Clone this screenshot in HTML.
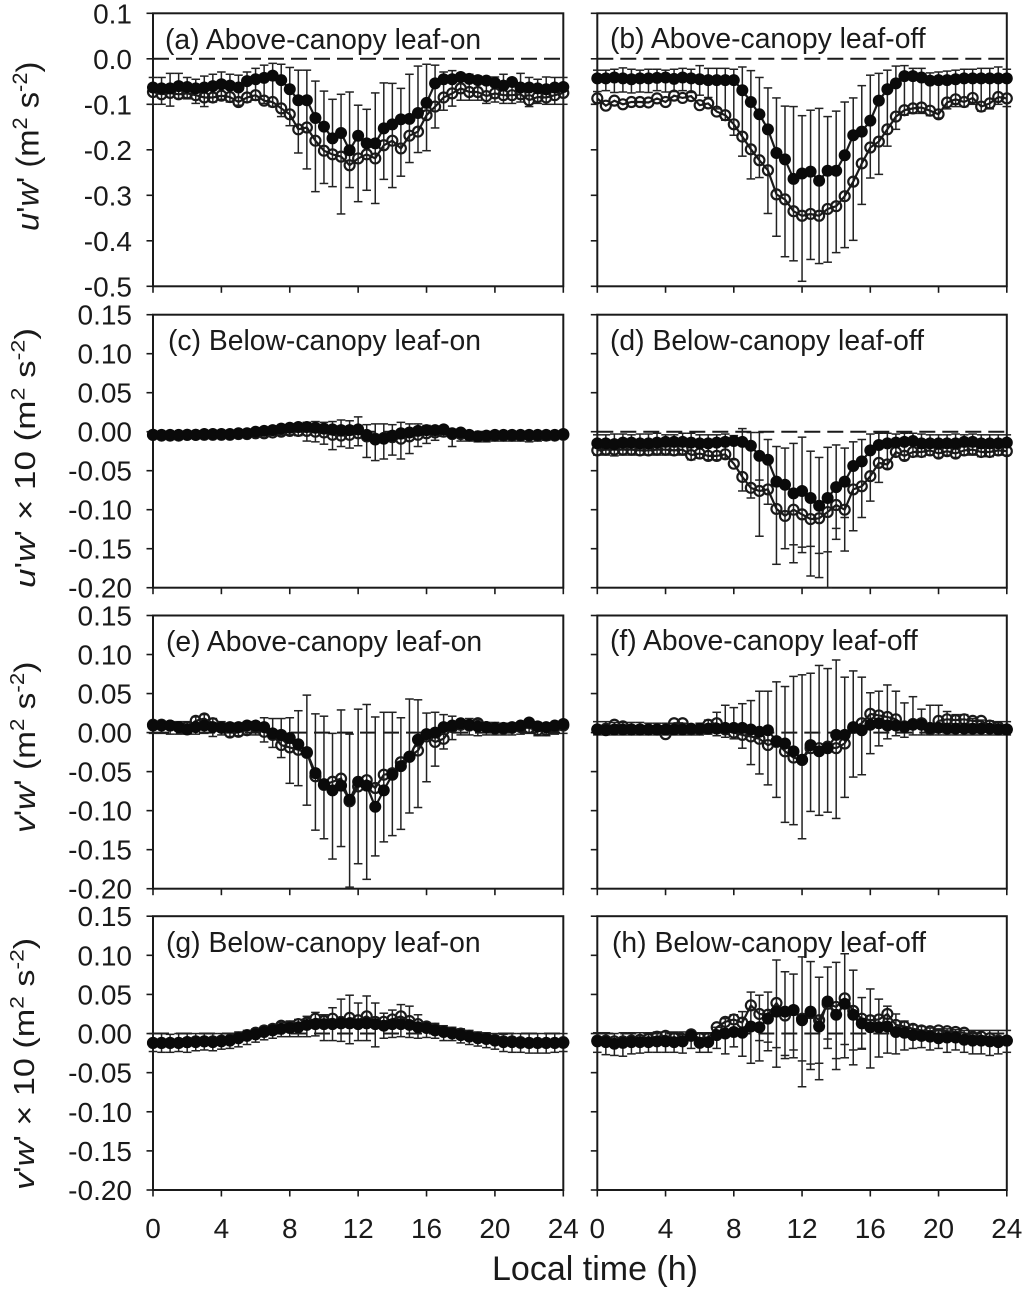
<!DOCTYPE html>
<html>
<head>
<meta charset="utf-8">
<title>Momentum flux diurnal panels</title>
<style>
html,body{margin:0;padding:0;background:#fff;}
svg{display:block;}
text{font-family:"Liberation Sans",sans-serif;fill:#1a1a1a;}
.pt{font-size:28.3px;}
.yt{font-size:30px;}
.yt .sp{font-size:20px;}
</style>
</head>
<body>
<svg id="chart" xmlns="http://www.w3.org/2000/svg" width="1024" height="1289" viewBox="0 0 1024 1289">
  <rect x="0" y="0" width="1024" height="1289" fill="#fff"/>
  <g id="marks"></g>
  <text class="pt" x="165" y="49">(a) Above-canopy leaf-on</text>
  <text class="pt" x="610" y="48">(b) Above-canopy leaf-off</text>
  <text class="pt" x="168" y="350">(c) Below-canopy leaf-on</text>
  <text class="pt" x="610" y="350">(d) Below-canopy leaf-off</text>
  <text class="pt" x="166" y="651">(e) Above-canopy leaf-on</text>
  <text class="pt" x="610" y="650">(f) Above-canopy leaf-off</text>
  <text class="pt" x="166" y="952">(g) Below-canopy leaf-on</text>
  <text class="pt" x="612" y="952">(h) Below-canopy leaf-off</text>
  <text class="yt" transform="translate(38.5,231) rotate(-90) scale(1.09,1.05)"><tspan font-style="italic">u</tspan>'<tspan font-style="italic">w</tspan>' (m<tspan class="sp" dy="-11">2</tspan><tspan dy="11"> s</tspan><tspan class="sp" dy="-11">-2</tspan><tspan dy="11">)</tspan></text>
  <text class="yt" transform="translate(35,588) rotate(-90) scale(1.167,0.95)"><tspan font-style="italic">u</tspan>'<tspan font-style="italic">w</tspan>' × 10 (m<tspan class="sp" dy="-11">2</tspan><tspan dy="11"> s</tspan><tspan class="sp" dy="-11">-2</tspan><tspan dy="11">)</tspan></text>
  <text class="yt" transform="translate(35,833) rotate(-90) scale(1.115,1)"><tspan font-style="italic">v</tspan>'<tspan font-style="italic">w</tspan>' (m<tspan class="sp" dy="-11">2</tspan><tspan dy="11"> s</tspan><tspan class="sp" dy="-11">-2</tspan><tspan dy="11">)</tspan></text>
  <text class="yt" transform="translate(34,1190) rotate(-90) scale(1.14,0.95)"><tspan font-style="italic">v</tspan>'<tspan font-style="italic">w</tspan>' × 10 (m<tspan class="sp" dy="-11">2</tspan><tspan dy="11"> s</tspan><tspan class="sp" dy="-11">-2</tspan><tspan dy="11">)</tspan></text>
  <text x="595" y="1280" text-anchor="middle" font-size="34">Local time (h)</text>
</svg>
<script>
const hours = [0,0.5,1,1.5,2,2.5,3,3.5,4,4.5,5,5.5,6,6.5,7,7.5,8,8.5,9,9.5,10,10.5,11,11.5,12,12.5,13,13.5,14,14.5,15,15.5,16,16.5,17,17.5,18,18.5,19,19.5,20,20.5,21,21.5,22,22.5,23,23.5,24];
const xTickValues = [0,4,8,12,16,20,24];
const xTickLabels = ['0','4','8','12','16','20','24'];
const yTicksTop = [0.1,0,-0.1,-0.2,-0.3,-0.4,-0.5];
const yTickLabelsTop = ['0.1','0.0','-0.1','-0.2','-0.3','-0.4','-0.5'];
const yTicksRest = [0.15,0.10,0.05,0,-0.05,-0.10,-0.15,-0.20];
const yTickLabelsRest = ['0.15','0.10','0.05','0.00','-0.05','-0.10','-0.15','-0.20'];

const aFilled = [-.063,-.065,-.065,-.06,-.062,-.065,-.063,-.06,-.056,-.059,-.063,-.049,-.045,-.042,-.037,-.047,-.067,-.091,-.091,-.13,-.149,-.175,-.163,-.201,-.169,-.186,-.186,-.153,-.144,-.133,-.132,-.119,-.097,-.054,-.045,-.045,-.04,-.044,-.047,-.048,-.053,-.059,-.051,-.063,-.063,-.065,-.067,-.063,-.062];
const aOpen = [-.073,-.078,-.075,-.078,-.076,-.08,-.085,-.085,-.081,-.084,-.095,-.085,-.08,-.092,-.095,-.109,-.122,-.155,-.151,-.18,-.202,-.21,-.215,-.234,-.219,-.21,-.219,-.19,-.18,-.197,-.169,-.16,-.124,-.105,-.085,-.076,-.065,-.073,-.073,-.082,-.076,-.08,-.08,-.078,-.091,-.084,-.085,-.08,-.075];
const aUpper = [-.041,-.041,-.032,-.032,-.041,-.045,-.038,-.034,-.029,-.034,-.036,-.029,-.021,-.014,-.01,-.012,-.019,-.025,-.025,-.049,-.071,-.089,-.078,-.073,-.102,-.111,-.075,-.053,-.054,-.065,-.034,-.016,-.012,-.014,-.029,-.026,-.032,-.034,-.038,-.041,-.04,-.034,-.044,-.032,-.041,-.045,-.04,-.041,-.041];
const aLower = [-.1,-.1,-.104,-.087,-.088,-.098,-.105,-.095,-.089,-.095,-.102,-.095,-.091,-.098,-.105,-.127,-.147,-.207,-.242,-.292,-.274,-.281,-.341,-.283,-.314,-.289,-.318,-.265,-.283,-.258,-.228,-.206,-.202,-.152,-.113,-.104,-.091,-.091,-.091,-.098,-.095,-.098,-.098,-.095,-.105,-.098,-.1,-.1,-.1];

const bFilled = [-.043,-.043,-.041,-.043,-.045,-.043,-.043,-.042,-.041,-.044,-.041,-.043,-.045,-.047,-.047,-.047,-.047,-.069,-.095,-.122,-.155,-.207,-.221,-.264,-.252,-.248,-.268,-.246,-.246,-.212,-.168,-.16,-.136,-.092,-.067,-.054,-.038,-.038,-.041,-.048,-.047,-.047,-.045,-.043,-.043,-.043,-.043,-.043,-.043];
const bOpen = [-.087,-.103,-.092,-.1,-.095,-.095,-.096,-.087,-.095,-.081,-.086,-.082,-.102,-.098,-.116,-.124,-.144,-.171,-.199,-.223,-.245,-.298,-.309,-.335,-.345,-.341,-.345,-.33,-.324,-.302,-.27,-.23,-.195,-.182,-.155,-.127,-.113,-.109,-.107,-.114,-.122,-.096,-.089,-.095,-.086,-.105,-.098,-.084,-.087];
const bUpper = [-.025,-.025,-.023,-.02,-.023,-.025,-.023,-.023,-.025,-.023,-.021,-.023,-.015,-.021,-.021,-.021,-.023,-.018,-.026,-.041,-.064,-.086,-.104,-.105,-.125,-.113,-.109,-.127,-.115,-.095,-.086,-.059,-.036,-.032,-.025,-.016,-.015,-.021,-.021,-.031,-.029,-.027,-.025,-.023,-.023,-.021,-.021,-.018,-.023];
const bLower = [-.072,-.07,-.074,-.073,-.075,-.073,-.074,-.07,-.073,-.072,-.07,-.074,-.08,-.085,-.11,-.135,-.168,-.214,-.264,-.261,-.34,-.39,-.435,-.444,-.489,-.441,-.45,-.447,-.426,-.415,-.399,-.32,-.262,-.254,-.192,-.155,-.124,-.12,-.12,-.125,-.13,-.11,-.105,-.105,-.1,-.115,-.11,-.1,-.105];

const cFilled = [-.004,-.004,-.004,-.004,-.004,-.004,-.003,-.003,-.003,-.003,-.002,-.002,0,.001,.002,.004,.005,.006,.006,.005,.004,.003,.002,.002,.003,-.004,-.01,-.009,-.005,-.002,-.001,.001,.002,.002,.003,-.002,-.001,-.004,-.006,-.005,-.004,-.004,-.004,-.004,-.004,-.004,-.004,-.004,-.003];
const cOpen = [-.004,-.005,-.005,-.005,-.004,-.004,-.004,-.004,-.004,-.004,-.003,-.003,-.002,-.002,-.001,0,.001,.001,.001,0,-.001,-.004,-.005,-.004,-.002,-.006,-.009,-.008,-.007,-.009,-.006,-.004,-.002,-.001,0,-.003,-.003,-.005,-.006,-.006,-.005,-.005,-.005,-.005,-.005,-.005,-.005,-.005,-.004];
const cUpper = [-.001,-.001,-.001,-.001,-.001,-.001,0,0,0,0,0,.001,.002,.003,.004,.006,.008,.009,.012,.013,.012,.013,.015,.014,.019,.009,.01,.01,.009,.012,.01,.01,.008,.007,.006,.003,.002,0,-.002,-.002,-.001,-.001,-.001,-.001,-.001,-.001,-.001,-.001,-.001];
const cLower = [-.008,-.009,-.01,-.01,-.009,-.009,-.009,-.008,-.008,-.008,-.007,-.006,-.005,-.005,-.004,-.004,-.004,-.005,-.012,-.013,-.016,-.023,-.019,-.021,-.018,-.033,-.037,-.035,-.03,-.035,-.028,-.019,-.015,-.011,-.006,-.019,-.012,-.012,-.013,-.013,-.012,-.012,-.012,-.012,-.013,-.012,-.011,-.01,-.008];

const dFilled = [-.015,-.015,-.016,-.014,-.014,-.015,-.015,-.014,-.013,-.013,-.013,-.014,-.015,-.015,-.014,-.013,-.012,-.013,-.018,-.031,-.036,-.064,-.068,-.079,-.076,-.085,-.095,-.085,-.071,-.064,-.044,-.038,-.024,-.017,-.015,-.014,-.013,-.012,-.015,-.015,-.015,-.015,-.015,-.013,-.013,-.015,-.015,-.015,-.014];
const dOpen = [-.024,-.023,-.023,-.023,-.023,-.024,-.024,-.023,-.023,-.024,-.023,-.03,-.028,-.031,-.031,-.029,-.041,-.058,-.072,-.076,-.074,-.099,-.108,-.1,-.106,-.112,-.111,-.103,-.094,-.1,-.074,-.07,-.057,-.04,-.042,-.026,-.031,-.026,-.026,-.024,-.028,-.025,-.028,-.024,-.023,-.026,-.026,-.024,-.025];
const dUpper = [-.004,-.004,-.003,-.003,-.004,-.003,-.003,-.002,-.004,-.004,-.002,-.002,-.004,-.004,-.004,-.003,-.005,.004,-.001,-.001,-.01,-.019,-.021,-.015,-.007,-.025,-.033,-.02,-.017,-.021,-.013,-.01,-.003,-.002,-.002,-.003,-.002,-.002,-.003,-.004,-.004,-.004,-.003,-.004,-.003,-.004,-.004,-.004,-.004];
const dLower = [-.03,-.03,-.031,-.03,-.03,-.03,-.03,-.03,-.03,-.03,-.03,-.036,-.034,-.036,-.036,-.034,-.036,-.076,-.085,-.134,-.093,-.17,-.15,-.168,-.155,-.185,-.187,-.2,-.138,-.153,-.127,-.11,-.089,-.065,-.047,-.032,-.036,-.032,-.032,-.03,-.033,-.03,-.033,-.03,-.03,-.032,-.032,-.03,-.03];
const dInnerCapHours = [9.5,11.5,12,12.5,13,13.5,14,14.5];
const dInnerCaps = [-.062,-.145,-.148,-.147,-.156,-.154,-.124,-.11];

const eFilled = [.009,.009,.009,.007,.004,.007,.009,.007,.006,.007,.007,.009,.009,.007,-.001,-.003,-.007,-.015,-.025,-.052,-.066,-.074,-.068,-.086,-.063,-.068,-.095,-.074,-.054,-.043,-.031,-.009,-.002,0,.007,.009,.012,.01,.008,.007,.006,.006,.007,.009,.013,.008,.007,.009,.011];
const eOpen = [.01,.01,.009,.007,.007,.015,.018,.012,.007,0,.001,.003,.007,.001,-.003,-.016,-.019,-.022,-.026,-.056,-.067,-.063,-.059,-.088,-.069,-.061,-.071,-.054,-.052,-.038,-.031,-.023,-.005,-.012,-.008,.007,.01,.009,.012,.007,.005,.005,.006,.007,.006,.003,.003,.007,.009];
const eUpper = [.014,.014,.014,.014,.014,.02,.023,.018,.014,.012,.012,.014,.014,.019,.018,.018,.019,.028,.048,.024,.021,-.001,.029,-.002,.03,.036,.02,.026,.026,.019,.043,.042,.025,.026,.023,.021,.016,.018,.016,.013,.013,.012,.012,.013,.016,.013,.012,.013,.015];
const eLower = [-.001,-.001,-.002,-.002,-.002,-.002,-.001,-.005,-.003,-.005,-.004,-.003,-.003,-.012,-.019,-.032,-.065,-.068,-.093,-.125,-.136,-.162,-.146,-.198,-.168,-.188,-.158,-.14,-.132,-.124,-.103,-.096,-.063,-.043,-.021,-.009,-.003,-.003,-.004,-.003,-.003,-.003,-.003,-.002,-.001,-.004,-.004,-.002,-.001];

const fFilled = [.004,.003,.004,.004,.004,.004,.004,.004,.004,.004,.004,.005,.005,.005,.005,.006,.006,.006,.004,.001,.003,-.011,-.014,-.024,-.035,-.016,-.024,-.02,-.003,-.003,.007,.003,.01,.012,.009,.009,.007,.01,.01,.006,.006,.005,.005,.005,.005,.005,.005,.004,.004];
const fOpen = [.004,.005,.01,.008,.004,.004,.004,.004,-.002,.012,.012,.004,.004,.01,.012,.004,0,-.003,-.005,-.008,-.016,-.012,-.024,-.032,-.035,-.02,-.02,-.018,-.02,-.014,.006,.012,.024,.022,.02,.017,.008,.011,.012,.004,.015,.017,.016,.017,.015,.015,.009,.007,.004];
const fUpper = [.014,.014,.013,.013,.013,.013,.012,.012,.012,.012,.012,.008,.012,.016,.026,.035,.032,.037,.041,.053,.053,.065,.059,.072,.074,.076,.086,.082,.093,.071,.079,.071,.051,.053,.061,.053,.038,.046,.03,.035,.035,.027,.023,.023,.018,.016,.015,.014,.014];
const fLower = [-.003,-.003,-.003,-.003,-.003,-.003,-.003,-.003,-.003,-.003,-.003,-.003,-.003,-.002,-.004,-.006,-.008,-.02,-.041,-.053,-.067,-.083,-.115,-.118,-.136,-.101,-.106,-.102,-.11,-.083,-.057,-.054,-.027,-.017,-.008,-.004,-.006,-.003,-.003,-.003,-.003,-.003,-.003,-.003,-.003,-.003,-.003,-.003,-.003];

const gFilled = [-.012,-.012,-.012,-.012,-.011,-.011,-.01,-.011,-.01,-.009,-.006,-.003,-.001,.002,.004,.006,.007,.008,.011,.012,.012,.012,.013,.013,.012,.013,.012,.01,.012,.012,.011,.008,.007,.004,.002,0,-.002,-.004,-.006,-.007,-.009,-.011,-.011,-.012,-.012,-.012,-.012,-.012,-.012];
const gOpen = [-.012,-.012,-.012,-.012,-.011,-.01,-.01,-.01,-.009,-.008,-.005,-.002,.001,.004,.006,.01,.009,.012,.014,.019,.016,.019,.015,.02,.017,.022,.015,.015,.018,.022,.016,.012,.009,.006,.003,.001,0,-.003,-.005,-.006,-.008,-.01,-.01,-.011,-.012,-.012,-.012,-.012,-.011];
const gUpper = [0,0,-.001,0,0,0,0,0,0,0,.002,.004,.006,.009,.011,.014,.016,.018,.022,.027,.024,.033,.044,.049,.039,.048,.039,.026,.03,.037,.035,.024,.014,.013,.01,.008,.006,.004,.002,.001,0,-.001,0,0,0,0,0,0,0];
const gLower = [-.023,-.024,-.024,-.023,-.024,-.022,-.021,-.022,-.02,-.019,-.017,-.014,-.011,-.008,-.006,-.004,-.004,-.004,-.004,-.003,-.009,-.009,-.01,-.013,-.009,-.009,-.017,-.006,-.005,-.004,-.005,-.006,-.005,-.006,-.009,-.009,-.012,-.014,-.016,-.018,-.02,-.023,-.024,-.024,-.025,-.025,-.025,-.024,-.023];

const hFilled = [-.01,-.011,-.013,-.012,-.011,-.011,-.011,-.01,-.01,-.011,-.01,-.003,-.012,-.011,-.002,0,.002,.001,.009,.008,.019,.028,.028,.03,.017,.028,.009,.041,.024,.038,.024,.013,.008,.008,.009,.002,.001,-.002,-.003,-.004,-.006,-.005,-.005,-.008,-.009,-.009,-.01,-.011,-.009];
const hOpen = [-.009,-.009,-.01,-.01,-.009,-.008,-.007,-.004,-.003,-.006,-.007,-.001,-.006,-.006,.008,.015,.018,.014,.036,.025,.024,.039,.023,.03,.019,.026,.017,.038,.034,.045,.029,.019,.017,.018,.025,.011,.009,.006,.004,.003,.004,.003,.002,.001,-.004,-.004,-.006,-.009,-.009];
const hUpper = [.001,.001,0,.001,.001,.001,.001,.002,.002,.002,.002,.003,.001,.001,.008,.019,.024,.028,.053,.049,.053,.094,.079,.076,.098,.092,.072,.085,.091,.102,.081,.046,.057,.044,.035,.025,.016,.011,.009,.007,.006,.006,.005,.004,.004,.004,.004,.004,.004];
const hLower = [-.024,-.027,-.028,-.029,-.026,-.025,-.024,-.024,-.024,-.024,-.025,-.019,-.024,-.024,-.019,-.026,-.017,-.029,-.038,-.035,-.022,-.043,-.032,-.031,-.068,-.046,-.059,-.019,-.046,-.031,-.04,-.02,-.044,-.03,-.025,-.026,-.021,-.019,-.018,-.021,-.019,-.024,-.021,-.024,-.026,-.026,-.028,-.026,-.024];
const hInnerCapHours = [9.5,10,10.5,11,11.5,12,12.5,13,13.5,14,14.5,15,15.5];
const hInnerCaps = [-.009,-.011,-.018,-.028,-.021,-.035,-.039,-.038,-.007,-.032,-.014,-.021,-.019];

const panels = [
  {id:'a',col:0,row:0,filled:aFilled,open:aOpen,upper:aUpper,lower:aLower},
  {id:'b',col:1,row:0,filled:bFilled,open:bOpen,upper:bUpper,lower:bLower},
  {id:'c',col:0,row:1,filled:cFilled,open:cOpen,upper:cUpper,lower:cLower},
  {id:'d',col:1,row:1,filled:dFilled,open:dOpen,upper:dUpper,lower:dLower,capHours:dInnerCapHours,caps:dInnerCaps},
  {id:'e',col:0,row:2,filled:eFilled,open:eOpen,upper:eUpper,lower:eLower},
  {id:'f',col:1,row:2,filled:fFilled,open:fOpen,upper:fUpper,lower:fLower},
  {id:'g',col:0,row:3,filled:gFilled,open:gOpen,upper:gUpper,lower:gLower},
  {id:'h',col:1,row:3,filled:hFilled,open:hOpen,upper:hUpper,lower:hLower,capHours:hInnerCapHours,caps:hInnerCaps}
];

const colBounds = [[153,563.3],[597.3,1006.8]];
const rowBounds = [[13.3,286.3],[314.7,587.7],[615.5,888.7],[916.2,1190]];
const rowDomains = [[0.1,-0.5],[0.15,-0.2],[0.15,-0.2],[0.15,-0.2]];

const NS = 'http://www.w3.org/2000/svg';
const root = document.getElementById('marks');
function make(parent, tag, attrs, text) {
  const el = document.createElementNS(NS, tag);
  for (const k in attrs) el.setAttribute(k, attrs[k]);
  if (text !== undefined) el.textContent = text;
  parent.appendChild(el);
  return el;
}
const INK = '#1a1a1a';

panels.forEach(function (p) {
  const L = colBounds[p.col][0], R = colBounds[p.col][1];
  const T = rowBounds[p.row][0], B = rowBounds[p.row][1];
  const dom = rowDomains[p.row];
  const xScale = function (h) { return L + (h / 24) * (R - L); };
  const yScale = function (v) { return T + (dom[0] - v) / (dom[0] - dom[1]) * (B - T); };

  const g = make(root, 'g', {});
  
  

  const zero = make(g, 'line', {x1: L, x2: R, y1: yScale(0), y2: yScale(0), stroke: INK, 'stroke-width': 2, 'stroke-dasharray': '16 7'});
  
  

  const frame = make(g, 'rect', {x: L, y: T, width: R - L, height: B - T, fill: 'none', stroke: INK, 'stroke-width': 2});
  
  

  const yTicks = p.row === 0 ? yTicksTop : yTicksRest;
  const yLabels = p.row === 0 ? yTickLabelsTop : yTickLabelsRest;
  yTicks.forEach(function (v, i) {
    const y = yScale(v);
    const t = make(g, 'line', {x1: L - 6.5, x2: L, y1: y, y2: y, stroke: INK, 'stroke-width': 1.6});
    
    
    if (p.col === 0) {
      const lab = make(g, 'text', {x: 132, y: y + 10, 'text-anchor': 'end', 'font-size': 28}, yLabels[i]);
      
      
    }
  });
  xTickValues.forEach(function (h, i) {
    const x = xScale(h);
    const t = make(g, 'line', {x1: x, x2: x, y1: B, y2: B + 6.5, stroke: INK, 'stroke-width': 1.6});
    
    
    if (p.row === 3) {
      const lab = make(g, 'text', {x: x, y: 1238, 'text-anchor': 'middle', 'font-size': 28}, xTickLabels[i]);
      
      
    }
  });

  hours.forEach(function (h, i) {
    const x = xScale(h);
    const yU = yScale(p.upper[i]), yL = yScale(p.lower[i]);
    const bar = make(g, 'line', {x1: x, x2: x, y1: yU, y2: yL, stroke: '#222', 'stroke-width': 1.5});
    
    
    const capU = make(g, 'line', {x1: x - 4.3, x2: x + 4.3, y1: yU, y2: yU, stroke: '#222', 'stroke-width': 1.5});
    
    
    const capL = make(g, 'line', {x1: x - 4.3, x2: x + 4.3, y1: yL, y2: yL, stroke: '#222', 'stroke-width': 1.5});
    
    
  });

  if (p.caps) {
    p.caps.forEach(function (v, i) {
      const x = xScale(p.capHours[i]), y = yScale(v);
      const cap = make(g, 'line', {x1: x - 4.3, x2: x + 4.3, y1: y, y2: y, stroke: '#222', 'stroke-width': 1.5});
      
      
    });
  }

  const toPath = function (vals) {
    return vals.map(function (v, i) { return xScale(hours[i]).toFixed(1) + ',' + yScale(v).toFixed(1); }).join(' ');
  };

  const openLine = make(g, 'polyline', {points: toPath(p.open), fill: 'none', stroke: INK, 'stroke-width': 2.2});
  
  
  p.open.forEach(function (v, i) {
    const c = make(g, 'circle', {cx: xScale(hours[i]), cy: yScale(v), r: 5, fill: 'none', stroke: INK, 'stroke-width': 2.2});
    
    
  });

  const filledLine = make(g, 'polyline', {points: toPath(p.filled), fill: 'none', stroke: INK, 'stroke-width': 2.2});
  
  
  p.filled.forEach(function (v, i) {
    const c = make(g, 'circle', {cx: xScale(hours[i]), cy: yScale(v), r: 6, fill: '#0a0a0a'});
    
    
  });
});
</script>
</body>
</html>
